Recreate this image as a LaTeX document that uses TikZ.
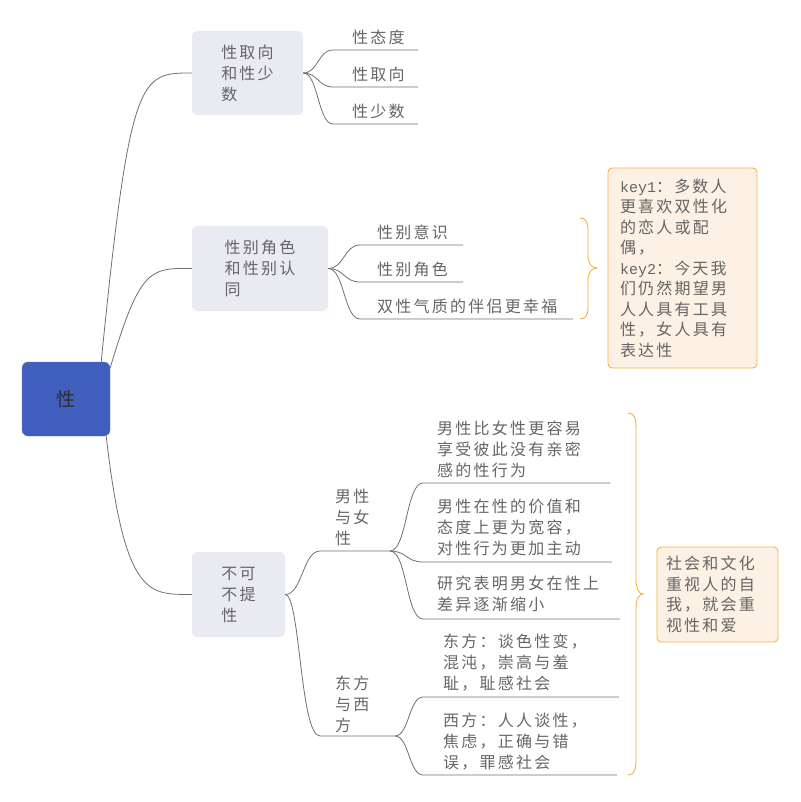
\documentclass[tikz,border=0pt]{standalone}
\usepackage{fontspec}
\newfontfamily\cjk[LetterSpace=14]{Noto Sans CJK SC}
\newfontfamily\monof{Liberation Mono}
\definecolor{lineC}{HTML}{707070}
\definecolor{txtC}{HTML}{666666}
\definecolor{boxC}{HTML}{E9EAF2}
\definecolor{rootC}{HTML}{405EBB}
\definecolor{rootB}{HTML}{6680CC}
\definecolor{rootT}{HTML}{2E2E2E}
\definecolor{orC}{HTML}{F5B342}
\definecolor{orF}{HTML}{FDF0E4}
\newcommand{\txtfont}{\cjk\fontsize{16pt}{21pt}\selectfont}
\newcommand{\keyfont}{\cjk\fontsize{16pt}{20.5pt}\selectfont}
\newcommand{\keyw}[1]{{\monof\fontsize{15pt}{20.5pt}\selectfont #1}}
\tikzset{
  conn/.style={draw=lineC, line width=0.8pt},
  brace/.style={draw=orC, line width=0.9pt},
  topic/.style={fill=boxC, rounded corners=5pt, align=left, font=\txtfont, text=txtC, inner sep=0pt},
  leaf/.style={anchor=west, align=left, font=\txtfont, text=txtC, inner sep=0pt},
  note/.style={draw=orC, fill=orF, rounded corners=4pt, align=left, font=\keyfont, text=txtC, inner ysep=0pt, line width=0.9pt},
}
\begin{document}
\begin{tikzpicture}[x=1pt,y=-1pt]
\useasboundingbox (0,0) rectangle (800,802);

% root
\node[fill=rootC, draw=rootB, rounded corners=6pt, minimum width=88pt, minimum height=74pt,
      font=\cjk\fontsize{19pt}{22pt}\selectfont, text=rootT, inner sep=0pt] (root) at (66,399) {性};

% topics
\node[topic, minimum width=111pt, minimum height=84pt] (b1) at (247.5,73) {性取向\\和性少\\数};
\node[topic, minimum width=136pt, minimum height=85pt] (b2) at (260,268.5) {性别角色\\和性别认\\同};
\node[topic, minimum width=93pt, minimum height=85pt] (b3) at (238.5,594.5) {不可\\不提\\性};

\draw[conn] ([xshift=-9pt]root.north east) .. controls (130,73) and (140,73) .. (b1.west);
\draw[conn] ([yshift=-6pt]root.north east) .. controls (140,268) and (150,268) .. (b2.west);
\draw[conn] ([xshift=-4pt]root.south east) .. controls (125,600) and (150,594) .. (b3.west);

% b1 leaves
\node[leaf] (l11) at (352,37) {性态度};
\node[leaf] (l12) at (352,74) {性取向};
\node[leaf] (l13) at (352,111) {性少数};
\coordinate (u11a) at (333,50);  \coordinate (u11b) at (418,50);
\coordinate (u12a) at (333,87);  \coordinate (u12b) at (418,87);
\coordinate (u13a) at (333,124); \coordinate (u13b) at (418,124);
\draw[conn] (b1.east) .. controls +(15,0) and +(-15,0) .. (u11a) -- (u11b);
\draw[conn] (b1.east) .. controls +(15,0) and +(-15,0) .. (u12a) -- (u12b);
\draw[conn] (b1.east) .. controls +(15,0) and +(-15,0) .. (u13a) -- (u13b);

% b2 leaves
\node[leaf] (l21) at (377,232) {性别意识};
\node[leaf] (l22) at (377,269) {性别角色};
\node[leaf] (l23) at (377,306) {双性气质的伴侣更幸福};
\coordinate (u21a) at (360,245); \coordinate (u21b) at (463,245);
\coordinate (u22a) at (360,282); \coordinate (u22b) at (463,282);
\coordinate (u23a) at (360,319); \coordinate (u23b) at (573,319);
\draw[conn] (b2.east) .. controls +(16,0) and +(-16,0) .. (u21a) -- (u21b);
\draw[conn] (b2.east) .. controls +(16,0) and +(-16,0) .. (u22a) -- (u22b);
\draw[conn] (b2.east) .. controls +(16,0) and +(-16,0) .. (u23a) -- (u23b);

% brace + key note
\draw[brace] (580,218) .. controls (586,218) and (588,222) .. (588,230) -- (588,256)
  .. controls (588,264) and (592,268) .. (597,268)
  .. controls (592,268) and (588,272) .. (588,280) -- (588,307)
  .. controls (588,315) and (586,319) .. (580,319);
\node[note, minimum width=149pt, minimum height=200pt, text width=125pt, inner xsep=12pt] (key) at (682.5,268)
 {\keyw{key1}：多数人\\更喜欢双性化\\的恋人或配\\偶，\\\keyw{key2}：今天我\\们仍然期望男\\人人具有工具\\性，女人具有\\表达性};

% b3 sub-branches
\node[leaf] (s1) at (335,517) {男性\\与女\\性};
\node[leaf] (s2) at (335,704) {东方\\与西\\方};
\coordinate (v1a) at (320,551); \coordinate (v1b) at (390,551);
\coordinate (v2a) at (320,736); \coordinate (v2b) at (395,736);
\draw[conn] (b3.east) .. controls +(17,0) and +(-17,0) .. (v1a) -- (v1b);
\draw[conn] (b3.east) .. controls +(15,0) and +(-20,0) .. (v2a) -- (v2b);

% 男性与女性 leaves
\node[leaf] (m1) at (437,449) {男性比女性更容易\\享受彼此没有亲密\\感的性行为};
\node[leaf] (m2) at (437,527) {男性在性的价值和\\态度上更为宽容，\\对性行为更加主动};
\node[leaf] (m3) at (437,594) {研究表明男女在性上\\差异逐渐缩小};
\coordinate (w1a) at (423,483); \coordinate (w1b) at (610,483);
\coordinate (w2a) at (423,562); \coordinate (w2b) at (612,562);
\coordinate (w3a) at (423,619); \coordinate (w3b) at (620,619);
\draw[conn] (v1b) .. controls +(17,0) and +(-17,0) .. (w1a) -- (w1b);
\draw[conn] (v1b) .. controls +(17,0) and +(-17,0) .. (w2a) -- (w2b);
\draw[conn] (v1b) .. controls +(17,0) and +(-17,0) .. (w3a) -- (w3b);

% 东方与西方 leaves
\node[leaf] (e1) at (443,663) {东方：谈色性变，\\混沌，崇高与羞\\耻，耻感社会};
\node[leaf] (e2) at (443,742) {西方：人人谈性，\\焦虑，正确与错\\误，罪感社会};
\coordinate (x1a) at (423,697); \coordinate (x1b) at (619,697);
\coordinate (x2a) at (423,775); \coordinate (x2b) at (617,775);
\draw[conn] (v2b) .. controls +(14,0) and +(-14,0) .. (x1a) -- (x1b);
\draw[conn] (v2b) .. controls +(14,0) and +(-14,0) .. (x2a) -- (x2b);

% big brace + note
\draw[brace] (628,413) .. controls (634,413) and (636,418) .. (636,428) -- (636,580)
  .. controls (636,589) and (639,594) .. (643,594)
  .. controls (639,594) and (636,599) .. (636,608) -- (636,760)
  .. controls (636,770) and (634,775) .. (628,775);
\node[note, minimum width=121pt, minimum height=95pt, text width=103pt, inner xsep=9pt] (soc) at (717.5,594.5)
 {社会和文化\\重视人的自\\我，就会重\\视性和爱};
\end{tikzpicture}
\end{document}
